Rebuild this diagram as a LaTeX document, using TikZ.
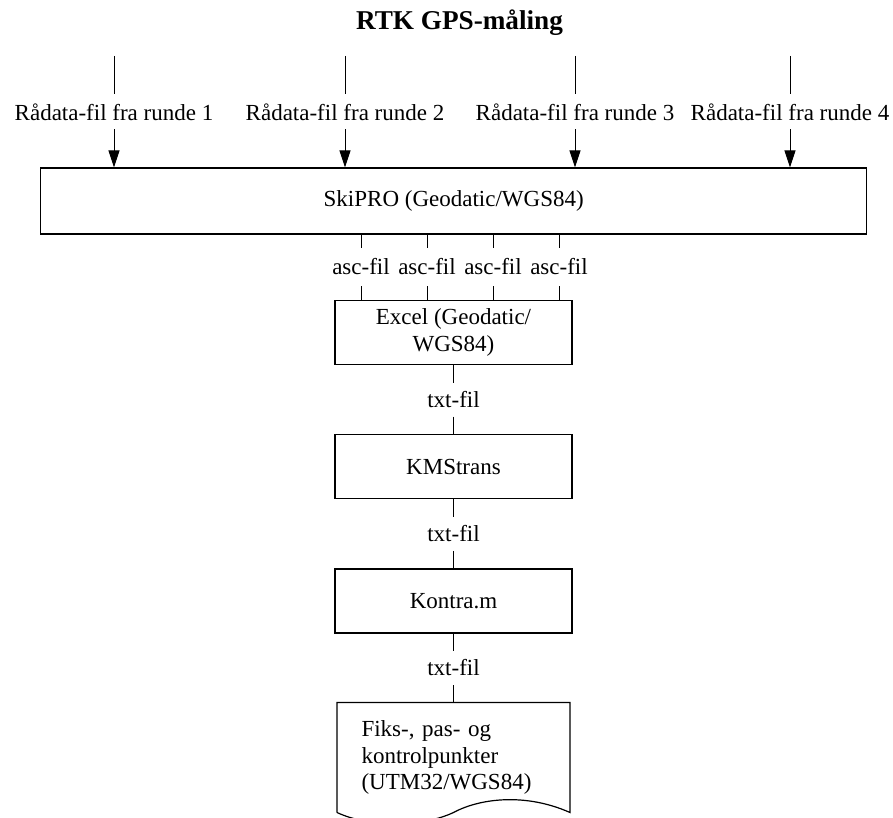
\documentclass[tikz,border=0pt]{standalone}
\usepackage{fontspec}
\setmainfont{Liberation Serif}
\usepackage{tikz}
\usetikzlibrary{shapes,positioning,arrows.meta,calc}
\tikzstyle{proc} = [rectangle, draw=black, line width=0.6pt, minimum width=118.5pt, minimum height=32pt, align=center]
\tikzstyle{fil} = [inner sep=0pt, minimum height=16.5pt]
\tikzstyle{arrow} = [-{Triangle[length=8.5pt,width=5.5pt]}]

\begin{document}
\begin{tikzpicture}[x=0.5pt, y=-0.5pt, line width=0.5pt, font=\fontsize{11.5pt}{13.4pt}\selectfont]
\useasboundingbox (0,0) rectangle (893,818);

\node[anchor=base, font=\bfseries\fontsize{13.6pt}{16pt}\selectfont] (title) at (459.5,29.5) {RTK GPS-måling};

\node[proc, minimum width=413pt, minimum height=33pt] (ski) at (453.7,201) {SkiPRO (Geodatic/WGS84)};

\node[proc] (excel) at (453.5,332.5) {Excel (Geodatic/\\WGS84)};
\node[fil, below=8.75pt of excel] (txt1) {txt-fil};
\node[proc, below=8.75pt of txt1] (kms) {KMStrans};
\node[fil, below=8.75pt of kms] (txt2) {txt-fil};
\node[proc, below=8.75pt of txt2] (kontra) {Kontra.m};
\node[fil, below=8.75pt of kontra] (txt3) {txt-fil};
\node[below=8.75pt of txt3, inner xsep=12pt, inner ysep=0pt, text width=92pt, minimum height=54.5pt, align=left] (fiks) {Fiks-, pas- og\\kontrolpunkter\\(UTM32/WGS84)};

% inputs from the rounds
\foreach \x/\n in {114/1,345/2,575/3,790/4} {
	\coordinate (src\n) at (\x,56);
	\node[fil, minimum height=17pt] (in\n) at (\x,112) {Rådata-fil fra runde \n};
	\draw (src\n) -- (in\n);
	\draw[arrow] (in\n) -- (in\n |- ski.north);
}

% SkiPRO -> Excel
\foreach \x [count=\i] in {361,427,493,559} {
	\node[fil, minimum height=18.5pt] (asc\i) at (\x,267) {asc-fil};
	\draw (asc\i |- ski.south) -- (asc\i);
	\draw (asc\i) -- (asc\i |- excel.north);
}

\draw
	(excel) -- (txt1)
	(txt1) -- (kms)
	(kms) -- (txt2)
	(txt2) -- (kontra)
	(kontra) -- (txt3)
	(txt3) -- (fiks)
;

% document outline
\draw[line width=0.6pt] (fiks.south west) -- (fiks.north west) -- (fiks.north east) -- (fiks.south east)
	.. controls +(-45,-20) and +(26,-14) .. (fiks.south)
	.. controls +(-32,15) and +(32,15) .. (fiks.south west);

\end{tikzpicture}
\end{document}
